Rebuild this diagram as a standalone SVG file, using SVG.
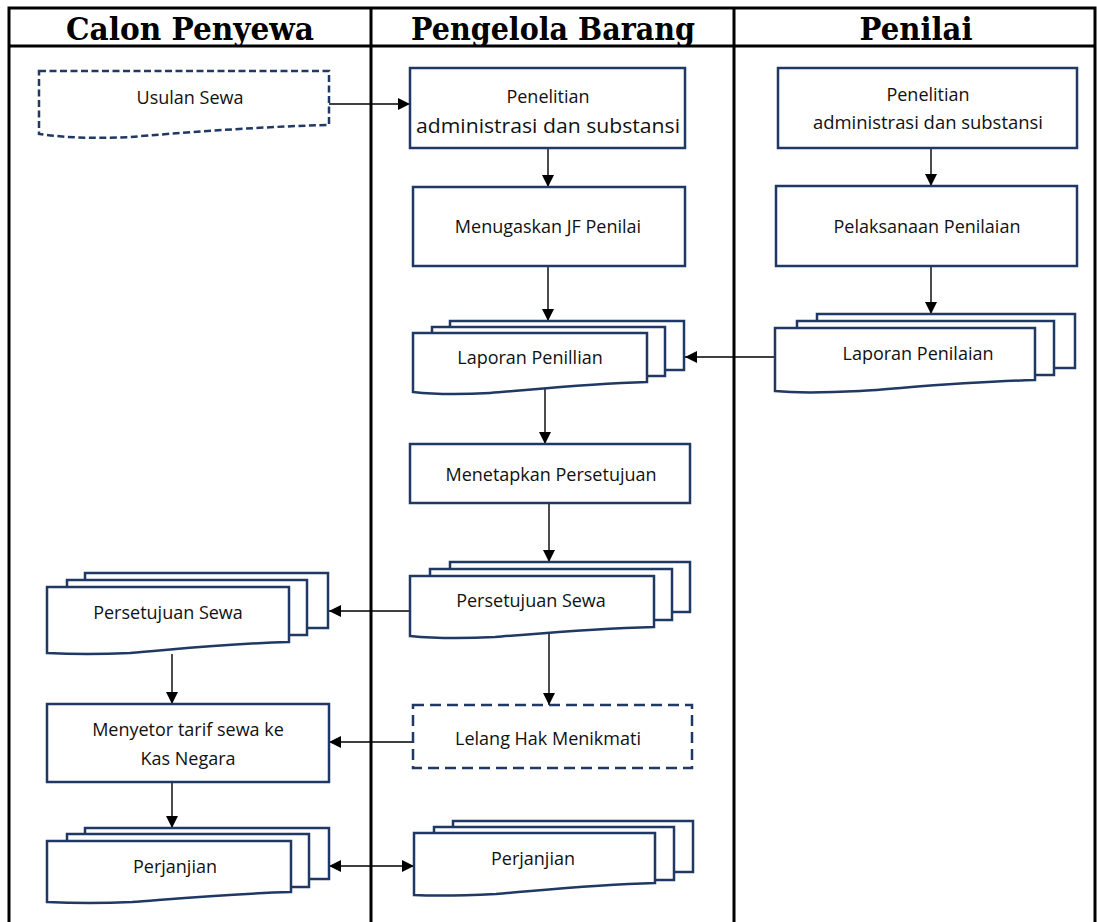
<svg xmlns="http://www.w3.org/2000/svg" width="1097" height="922" viewBox="0 0 1097 922">
<style>
.tbl{stroke:#000;stroke-width:3;fill:none}
.hd{font-family:"DejaVu Serif",serif;font-weight:bold;font-size:31px;fill:#000;text-anchor:middle}
.n{fill:#fff;stroke:#1F3864;stroke-width:2.5}
.d1{stroke-dasharray:7 3.5}
.d2{stroke-dasharray:11 6}
.t{font-family:"Open Sans","Liberation Sans",sans-serif;font-size:18px;fill:#111;text-anchor:middle;dominant-baseline:central}
.c{stroke:#000;stroke-width:1.4;fill:none}
.a{marker-end:url(#ah)}
.b{marker-start:url(#ahs);marker-end:url(#ah)}
</style>
<defs>
<marker id="ah" viewBox="0 0 12 12" refX="12" refY="6" markerWidth="12" markerHeight="12" markerUnits="userSpaceOnUse" orient="auto">
<path d="M0,0 L12,6 L0,12 Z" fill="#000"/>
</marker>
<marker id="ahs" viewBox="0 0 12 12" refX="12" refY="6" markerWidth="12" markerHeight="12" markerUnits="userSpaceOnUse" orient="auto-start-reverse">
<path d="M0,0 L12,6 L0,12 Z" fill="#000"/>
</marker>
</defs>
<rect width="1097" height="922" fill="#fff"/>
<g id="table">
<path class="tbl" d="M9,922 V8 H1095 V922 M9,46 H1095 M371,8 V922 M734,8 V922"/>
<text class="hd" x="190" y="40" textLength="248" lengthAdjust="spacingAndGlyphs">Calon Penyewa</text>
<text class="hd" x="553" y="40" textLength="284" lengthAdjust="spacingAndGlyphs">Pengelola Barang</text>
<text class="hd" x="916" y="40" textLength="113" lengthAdjust="spacingAndGlyphs">Penilai</text>
</g>
<g id="connectors">
<path class="c a" d="M329,104 H410"/>
<path class="c a" d="M548,148 V187"/>
<path class="c a" d="M548,266 V321"/>
<path class="c a" d="M931,148 V186"/>
<path class="c a" d="M931,266 V314"/>
<path class="c a" d="M775,357 H685"/>
<path class="c a" d="M545,389 V444"/>
<path class="c a" d="M549,503 V562"/>
<path class="c a" d="M410,611 H329"/>
<path class="c a" d="M549,632 V705"/>
<path class="c a" d="M413,742 H329"/>
<path class="c a" d="M172,654 V704"/>
<path class="c a" d="M172,782 V828"/>
<path class="c b" d="M329,866 H414"/>
</g>
<g id="usulan-sewa">
<path class="n d1" d="M39,71 H329 V125 C250,127 180,133 130,137 C90,139 60,137 39,134 Z"/>
<text class="t" x="190" y="97">Usulan Sewa</text>
</g>
<g id="penelitian-pb">
<rect class="n" x="410" y="68" width="275" height="80"/>
<text class="t" x="548" y="96">Penelitian</text>
<text class="t" x="548" y="125" style="font-size:20px" textLength="264" lengthAdjust="spacingAndGlyphs">administrasi dan substansi</text>
</g>
<g id="menugaskan">
<rect class="n" x="413" y="187" width="272" height="79"/>
<text class="t" x="548" y="226">Menugaskan JF Penilai</text>
</g>
<g id="laporan-penillian">
<rect class="n" x="450" y="321" width="234" height="49"/>
<rect class="n" x="432" y="327" width="233" height="49"/>
<path class="n" d="M413,333 H647 V382 C580,384 530,390 490,393 C455,395 430,394 413,392 Z"/>
<text class="t" x="530" y="357">Laporan Penillian</text>
</g>
<g id="penelitian-penilai">
<rect class="n" x="778" y="68" width="299" height="80"/>
<text class="t" x="928" y="94">Penelitian</text>
<text class="t" x="928" y="122" textLength="230" lengthAdjust="spacingAndGlyphs">administrasi dan substansi</text>
</g>
<g id="pelaksanaan">
<rect class="n" x="776" y="186" width="301" height="80"/>
<text class="t" x="927" y="226">Pelaksanaan Penilaian</text>
</g>
<g id="laporan-penilaian">
<rect class="n" x="817" y="314" width="258" height="54"/>
<rect class="n" x="797" y="321" width="257" height="54"/>
<path class="n" d="M775,328 H1035 V380 C960,382 905,388 860,391 C820,393 795,393 775,391 Z"/>
<text class="t" x="918" y="353">Laporan Penilaian</text>
</g>
<g id="menetapkan">
<rect class="n" x="410" y="444" width="280" height="59"/>
<text class="t" x="551" y="474">Menetapkan Persetujuan</text>
</g>
<g id="persetujuan-pb">
<rect class="n" x="450" y="562" width="240" height="50"/>
<rect class="n" x="430" y="569" width="242" height="51"/>
<path class="n" d="M410,576 H654 V627 C585,629 535,634 495,637 C455,639 430,638 410,636 Z"/>
<text class="t" x="531" y="600">Persetujuan Sewa</text>
</g>
<g id="persetujuan-cp">
<rect class="n" x="85" y="573" width="243" height="55"/>
<rect class="n" x="67" y="580" width="240" height="55"/>
<path class="n" d="M47,587 H289 V642 C220,644 170,650 130,653 C90,655 65,654 47,653 Z"/>
<text class="t" x="168" y="612">Persetujuan Sewa</text>
</g>
<g id="lelang">
<rect class="n d2" x="413" y="705" width="279" height="63"/>
<text class="t" x="548" y="738">Lelang Hak Menikmati</text>
</g>
<g id="menyetor">
<rect class="n" x="47" y="704" width="282" height="78"/>
<text class="t" x="188" y="729">Menyetor tarif sewa ke</text>
<text class="t" x="188" y="758">Kas Negara</text>
</g>
<g id="perjanjian-cp">
<rect class="n" x="85" y="828" width="244" height="51"/>
<rect class="n" x="67" y="834" width="242" height="53"/>
<path class="n" d="M47,841 H291 V892 C222,894 172,899 132,902 C92,904 67,903 47,902 Z"/>
<text class="t" x="175" y="866">Perjanjian</text>
</g>
<g id="perjanjian-pb">
<rect class="n" x="453" y="821" width="240" height="51"/>
<rect class="n" x="434" y="827" width="240" height="53"/>
<path class="n" d="M414,833 H655 V883 C586,885 536,891 496,894 C456,896 432,896 414,895 Z"/>
<text class="t" x="533" y="858">Perjanjian</text>
</g>
</svg>
